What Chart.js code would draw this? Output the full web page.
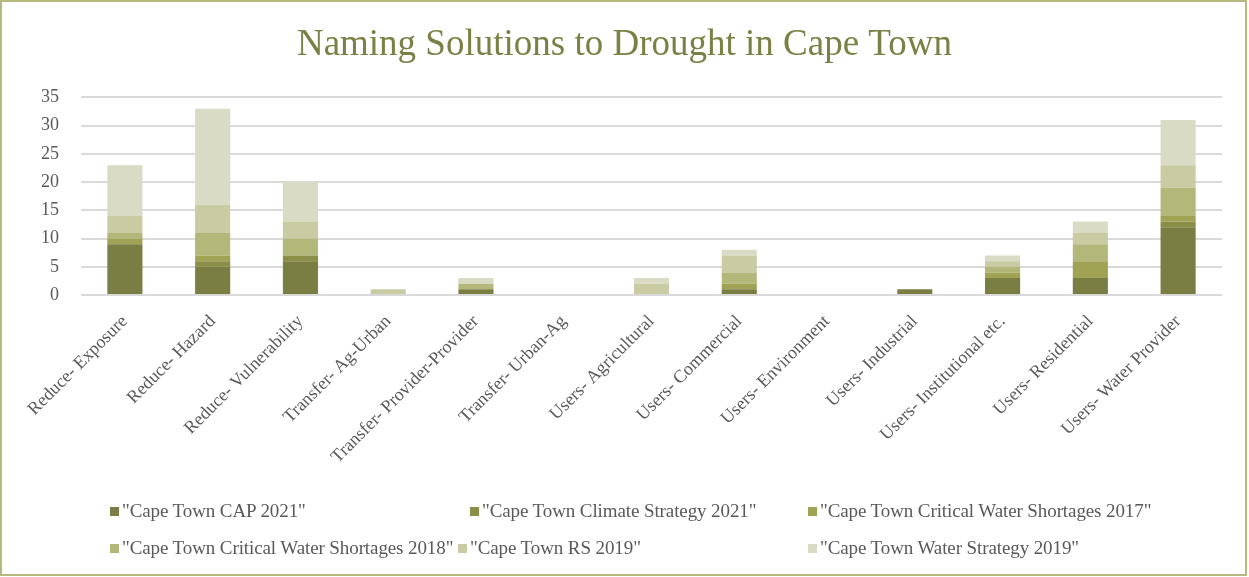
<!DOCTYPE html>
<html>
<head>
<meta charset="utf-8">
<script src="https://cdn.jsdelivr.net/npm/chart.js@4/dist/chart.umd.min.js"></script>
<style>
  html, body { margin: 0; padding: 0; background: #fff; }
  #wrap { position: relative; width: 1249px; height: 577px; overflow: hidden; }
  #frame { position: absolute; left: 0; top: 0; width: 1247px; height: 576px; box-sizing: border-box;
           border: 2px solid #b5b97c; pointer-events: none; }
  canvas { position: absolute; left: 0; top: 0; }
  .lg { position: absolute; font-family: "Liberation Serif", serif; font-size: 19px; color: #595959;
        white-space: nowrap; line-height: 20px; letter-spacing: -0.1px; }
  .lg i { display: inline-block; width: 9px; height: 9px; margin-right: 3px; vertical-align: 1px; }
</style>
</head>
<body>
<div id="wrap">
  <canvas id="c" width="1249" height="577"></canvas>
  <div id="legend"></div>
  <div id="frame"></div>
</div>
<script>
// Solution categories along the x axis
const categories = [
  "Reduce- Exposure", "Reduce- Hazard", "Reduce- Vulnerability",
  "Transfer- Ag-Urban", "Transfer- Provider-Provider", "Transfer- Urban-Ag",
  "Users- Agricultural", "Users- Commercial", "Users- Environment",
  "Users- Industrial", "Users- Institutional etc.", "Users- Residential",
  "Users- Water Provider"
];

// Mentions per source document
const capTown2021         = [9, 5, 6, 0, 1, 0, 0, 1, 0, 1, 3, 3, 12];
const climateStrategy2021 = [0, 1, 1, 0, 0, 0, 0, 0, 0, 0, 0, 0, 1];
const criticalWater2017   = [1, 1, 0, 0, 0, 0, 0, 1, 0, 0, 1, 3, 1];
const criticalWater2018   = [1, 4, 3, 0, 1, 0, 0, 2, 0, 0, 1, 3, 5];
const resilience2019      = [3, 5, 3, 1, 0, 0, 2, 3, 0, 0, 1, 2, 4];
const waterStrategy2019   = [9, 17, 7, 0, 1, 0, 1, 1, 0, 0, 1, 2, 8];

const seriesNames = [
  '"Cape Town CAP 2021"',
  '"Cape Town Climate Strategy 2021"',
  '"Cape Town Critical Water Shortages 2017"',
  '"Cape Town Critical Water Shortages 2018"',
  '"Cape Town RS 2019"',
  '"Cape Town Water Strategy 2019"'
];

const yTicks = [0, 5, 10, 15, 20, 25, 30, 35];

const colors = ["#7a7e42", "#8b8e47", "#a0a354", "#b3b77a", "#c9cba3", "#d9dbc4"];
const seriesValues = [capTown2021, climateStrategy2021, criticalWater2017,
                      criticalWater2018, resilience2019, waterStrategy2019];

const serif = "'Liberation Serif', 'Times New Roman', serif";

const chart = new Chart(document.getElementById("c"), {
  type: "bar",
  data: {
    labels: categories,
    datasets: seriesValues.map((vals, i) => ({
      label: seriesNames[i],
      data: vals,
      backgroundColor: colors[i],
      borderWidth: 0,
      categoryPercentage: 1.0,
      barPercentage: 0.4
    }))
  },
  options: {
    responsive: false,
    animation: false,
    devicePixelRatio: 1,
    layout: { padding: { left: 27, right: 27, top: 0, bottom: 82 } },
    plugins: {
      legend: { display: false },
      tooltip: { enabled: false },
      title: {
        display: true,
        text: "Naming Solutions to Drought in Cape Town",
        color: "#7b8044",
        font: { family: serif, size: 37, weight: "normal" },
        padding: { top: 23, bottom: 30 }
      }
    },
    scales: {
      x: {
        stacked: true,
        grid: { display: false },
        border: { display: false },
        ticks: {
          color: "#595959",
          font: { family: serif, size: 18 },
          maxRotation: 45,
          minRotation: 45,
          autoSkip: false,
          padding: 8
        },
        afterFit(scale) {
          scale.height = 577 - 82 - 295;
          scale.paddingLeft = 0;
          scale.paddingRight = 0;
        }
      },
      y: {
        stacked: true,
        min: 0,
        max: 35,
        afterBuildTicks(scale) {
          scale.ticks = yTicks.map(v => ({ value: v }));
        },
        grid: { color: "#d9d9d9", lineWidth: 2, drawTicks: false },
        border: { display: false },
        ticks: {
          color: "#595959",
          font: { family: serif, size: 18 },
          padding: 22
        },
        afterFit(scale) {
          scale.width = 54;
        }
      }
    }
  }
});

// Legend laid out in two rows of three, built from the chart's datasets
const legendSlots = [
  { left: 110, top: 501 }, { left: 470, top: 501 }, { left: 808, top: 501 },
  { left: 110, top: 538 }, { left: 458, top: 538 }, { left: 808, top: 538 }
];
const legendEl = document.getElementById("legend");
chart.data.datasets.forEach((ds, i) => {
  const item = document.createElement("div");
  item.className = "lg";
  item.style.left = legendSlots[i].left + "px";
  item.style.top = legendSlots[i].top + "px";
  const sw = document.createElement("i");
  sw.style.background = ds.backgroundColor;
  item.appendChild(sw);
  item.appendChild(document.createTextNode(ds.label));
  legendEl.appendChild(item);
});
</script>
</body>
</html>
